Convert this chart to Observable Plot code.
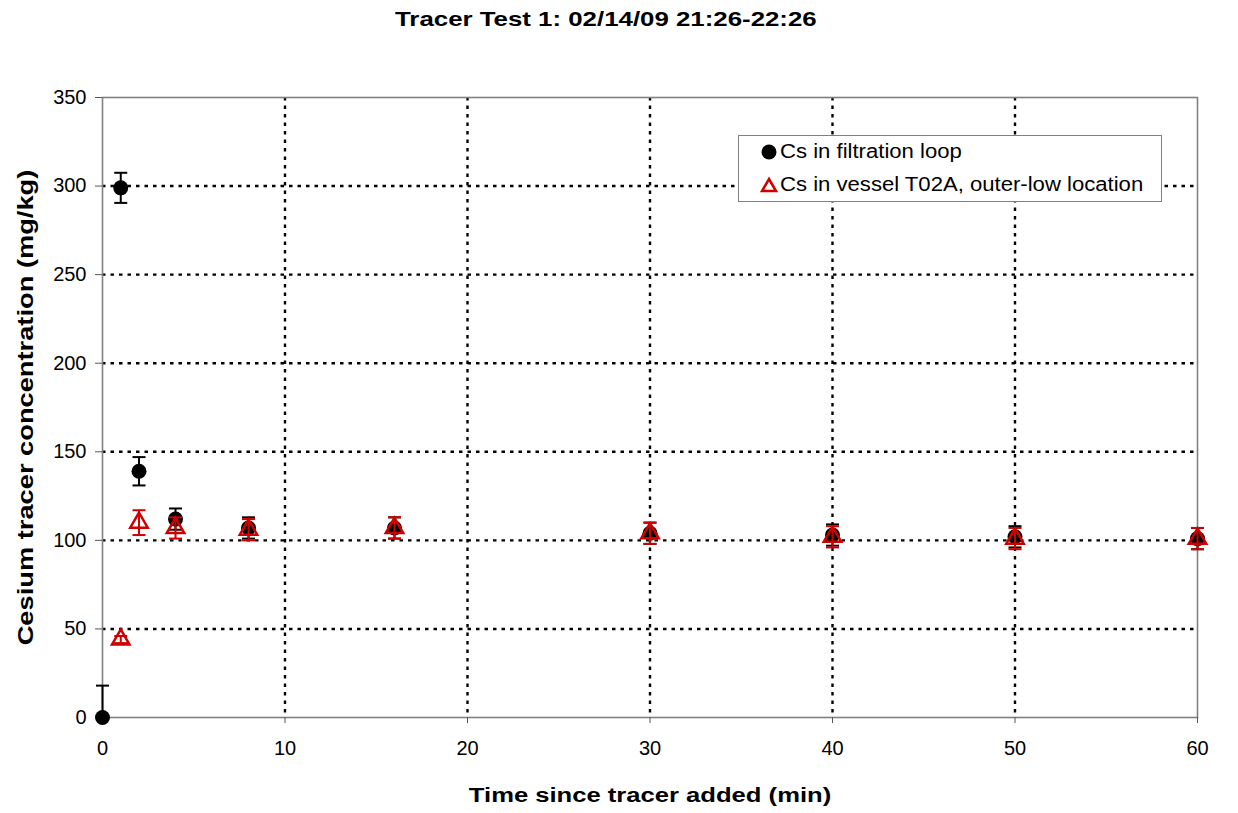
<!DOCTYPE html>
<html><head><meta charset="utf-8">
<script src="https://cdn.jsdelivr.net/npm/d3@7"></script>
<script src="https://cdn.jsdelivr.net/npm/@observablehq/plot@0.6"></script>
<style>
body{margin:0;background:#fff;font-family:Arial,"Liberation Sans",sans-serif;}
#wrap{position:relative;width:1238px;height:813px;}
#title{position:relative;height:40px;}
#title span{position:absolute;left:395px;top:7px;white-space:nowrap;font-weight:bold;font-size:21px;transform-origin:0 0;transform:scaleX(1.23);}
#legend{position:absolute;left:738px;top:135px;width:424px;height:67px;border:1.5px solid #808080;background:#fff;box-sizing:border-box;font-size:20px;}
#legend .row{position:absolute;left:21px;display:flex;align-items:center;}
#legend .row span{display:inline-block;white-space:nowrap;transform-origin:0 50%;transform:scaleX(1.105);margin-left:2px;}
</style></head><body>
<div id="wrap">
<div id="title"><span>Tracer Test 1: 02/14/09 21:26-22:26</span></div>
<div id="chart"></div>
<div id="legend">
 <div class="row" style="top:4px"><svg width="18" height="18"><circle cx="9" cy="9" r="7.5" fill="#000"/></svg><span>Cs in filtration loop</span></div>
 <div class="row" style="top:37px"><svg width="18" height="18"><path d="M9,3 L16,15 L2,15 Z" fill="none" stroke="#d00000" stroke-width="2.5"/></svg><span>Cs in vessel T02A, outer-low location</span></div>
</div>
</div>
<script>
const times = [0, 1, 2, 4, 8, 16, 30, 40, 50, 60];
const loopCs = [0, 299, 139, 112, 107, 107, 104, 103, 102, 101];
const loopErr = [18, 8.5, 8, 6, 6, 6, 6, 6, 6, 6];
const vesselTimes = [1, 2, 4, 8, 16, 30, 40, 50, 60];
const vesselCs = [44, 110, 107, 106, 107, 104, 102, 101, 101];
const vesselErr = [2, 7, 6, 6, 6, 6, 6, 6, 6];
const xTicks = [0, 10, 20, 30, 40, 50, 60];
const yTicks = [0, 50, 100, 150, 200, 250, 300, 350];

const loop = times.map((t, i) => ({t, v: loopCs[i], e: loopErr[i]}));
const vessel = vesselTimes.map((t, i) => ({t, v: vesselCs[i], e: vesselErr[i]}));

const capSymbol = {draw(ctx, size){ const w = 6.5; ctx.moveTo(-w, 0); ctx.lineTo(w, 0); }};
const red = "#d00000";

const plot = Plot.plot({
  width: 1238, height: 773,
  marginLeft: 102, marginRight: 41, marginTop: 57, marginBottom: 96,
  x: {domain: [0, 60], ticks: xTicks},
  y: {domain: [0, 350], ticks: yTicks},
  style: {fontFamily: "Arial, 'Liberation Sans', sans-serif", fontSize: "20px", color: "#000", background: "#fff"},
  marks: [
    Plot.gridX(xTicks.filter(d => d > 0 && d < 60), {stroke: "#000", strokeOpacity: 1, strokeWidth: 2.4, strokeDasharray: "3.5,5"}),
    Plot.gridY(yTicks.filter(d => d > 0 && d < 350), {stroke: "#000", strokeOpacity: 1, strokeWidth: 2.4, strokeDasharray: "3.5,5"}),
    Plot.frame({stroke: "#808080", strokeWidth: 1.6}),
    Plot.axisX(xTicks, {tickSize: 6, tickPadding: 17, label: null, stroke: "#555", fontSize: 20}),
    Plot.axisY(yTicks, {tickSize: 7, tickPadding: 9, label: null, stroke: "#555", fontSize: 20}),
    // filtration loop error bars
    Plot.ruleX(loop, {x: "t", y1: d => Math.max(0, d.v - d.e), y2: d => d.v + d.e, stroke: "#000", strokeWidth: 2}),
    Plot.dot(loop.filter(d => d.v - d.e >= 0), {x: "t", y: d => d.v - d.e, symbol: capSymbol, stroke: "#000", strokeWidth: 2}),
    Plot.dot(loop, {x: "t", y: d => d.v + d.e, symbol: capSymbol, stroke: "#000", strokeWidth: 2}),
    Plot.dot(loop, {x: "t", y: "v", r: 7.5, fill: "#000", stroke: "none"}),
    // vessel error bars
    Plot.ruleX(vessel, {x: "t", y1: d => d.v - d.e, y2: d => d.v + d.e, stroke: red, strokeWidth: 2}),
    Plot.dot(vessel, {x: "t", y: d => d.v - d.e, symbol: capSymbol, stroke: red, strokeWidth: 2}),
    Plot.dot(vessel, {x: "t", y: d => d.v + d.e, symbol: capSymbol, stroke: red, strokeWidth: 2}),
    Plot.dot(vessel, {x: "t", y: "v", symbol: "triangle", r: 6.5, fill: "none", stroke: red, strokeWidth: 2.5}),
    // axis titles
    Plot.text(["Cesium tracer concentration (mg/kg)"], {frameAnchor: "left", dx: -77, rotate: -90, textAnchor: "middle", lineAnchor: "middle", fontWeight: "bold", fontSize: 22, text: d => d, className: "ytitle"}),
    Plot.text(["Time since tracer added (min)"], {frameAnchor: "bottom", dy: 78, textAnchor: "middle", lineAnchor: "middle", fontWeight: "bold", fontSize: 21, text: d => d, className: "xtitle"})
  ]
});
// horizontal stretch of the axis titles to match the reference's scanned proportions
d3.select(plot).selectAll(".ytitle text").attr("transform", function(){ return d3.select(this).attr("transform") + " scale(1.24,1)"; });
d3.select(plot).selectAll(".xtitle text").attr("transform", function(){ return d3.select(this).attr("transform") + " scale(1.22,1)"; });
document.getElementById("chart").appendChild(plot);
</script>
</body></html>
